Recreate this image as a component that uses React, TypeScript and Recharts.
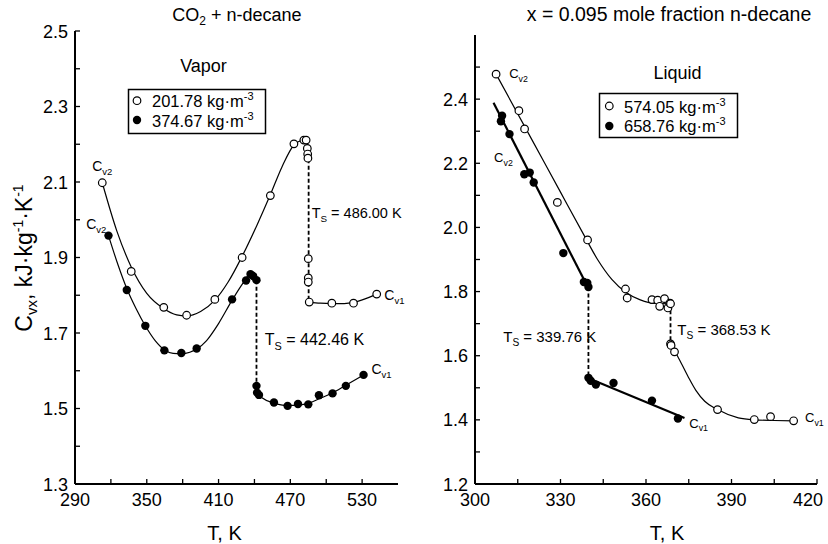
import React from "react";
import { ComposedChart, Line, Scatter, XAxis, YAxis, ReferenceDot } from "recharts";

const FONT = "'Liberation Sans', Arial, Helvetica, sans-serif";

// ---- left panel: vapor, CO2 + n-decane ----
const vaporOpenPts = [
  [312.8, 2.098], [337, 1.863], [364.2, 1.768], [383.3, 1.747], [406.9, 1.789],
  [429.7, 1.9], [453.3, 2.064], [473, 2.201], [481.3, 2.211], [483.2, 2.211],
  [484.2, 2.189], [484.5, 2.174], [484.7, 2.163], [485, 1.897], [485, 1.846],
  [485, 1.835], [485.8, 1.782], [504.7, 1.779], [522.8, 1.779], [542.2, 1.803],
];
const vaporFilledPts = [
  [318, 1.958], [333.3, 1.814], [348.8, 1.719], [364.7, 1.654], [378.9, 1.647],
  [391.7, 1.659], [421.3, 1.789], [433, 1.839], [436.7, 1.856], [438.9, 1.851],
  [441.7, 1.84], [441.7, 1.56], [442.2, 1.542], [443.8, 1.536], [456.3, 1.516],
  [467.7, 1.507], [476.4, 1.512], [485, 1.511], [493.9, 1.535], [505.3, 1.54],
  [516.4, 1.56], [531.2, 1.589],
];
const vaporOpenCurveA = [
  [312.8, 2.098], [325, 1.97], [337, 1.875], [350, 1.805], [364, 1.765], [375, 1.748],
  [383, 1.745], [395, 1.757], [407, 1.787], [418, 1.835], [430, 1.905], [442, 1.985],
  [453, 2.064], [463, 2.14], [473, 2.198], [479, 2.21], [483, 2.212], [484.7, 2.163],
];
const vaporOpenDash = [[485.3, 2.16], [485.3, 1.782]];
const vaporOpenCurveB = [
  [485.8, 1.782], [495, 1.779], [505, 1.778], [515, 1.778], [523, 1.781], [533, 1.791], [542.2, 1.803],
];
const vaporFilledCurveA = [
  [318, 1.958], [326, 1.88], [333, 1.82], [341, 1.765], [349, 1.718], [357, 1.68],
  [365, 1.655], [372, 1.646], [379, 1.645], [386, 1.649], [392, 1.658], [400, 1.68],
  [410, 1.725], [421, 1.785], [430, 1.83], [436, 1.855], [441.7, 1.842],
];
const vaporFilledDash = [[441.7, 1.84], [441.7, 1.56]];
const vaporFilledCurveB = [
  [441.7, 1.56], [443, 1.54], [447, 1.527], [456, 1.515], [467, 1.508], [477, 1.509],
  [486, 1.515], [495, 1.527], [505, 1.541], [516, 1.561], [531.2, 1.589],
];
const vaporXTicks = [290, 320, 350, 380, 410, 440, 470, 500, 530];
const vaporXLabels = [290, 350, 410, 470, 530];
const vaporYTicks = [1.3, 1.4, 1.5, 1.6, 1.7, 1.8, 1.9, 2.0, 2.1, 2.2, 2.3, 2.4, 2.5];
const vaporYLabels = [1.3, 1.5, 1.7, 1.9, 2.1, 2.3, 2.5];
const vaporNotes = [
  { T: 304.4, v: 2.129, main: "C", sub: "v2", rest: "", size: 14 },
  { T: 299.4, v: 1.975, main: "C", sub: "v2", rest: "", size: 14 },
  { T: 548.6, v: 1.787, main: "C", sub: "v1", rest: "", size: 14 },
  { T: 537.8, v: 1.591, main: "C", sub: "v1", rest: "", size: 14 },
  { T: 487.8, v: 2.005, main: "T", sub: "S", rest: " = 486.00 K", size: 14.5 },
  { T: 448.6, v: 1.668, main: "T", sub: "S", rest: " = 442.46 K", size: 16 },
];

// ---- right panel: liquid, x = 0.095 ----
const liquidOpenPts = [
  [307.4, 2.478], [315.4, 2.364], [317.4, 2.307], [328.9, 2.078], [339.5, 1.961],
  [352.8, 1.808], [353.4, 1.78], [362.1, 1.775], [364.1, 1.773], [364.8, 1.754],
  [366.5, 1.778], [367.7, 1.749], [368.4, 1.764], [368.6, 1.762], [368.6, 1.637],
  [368.8, 1.632], [370, 1.612], [385.1, 1.432], [398, 1.401], [403.7, 1.41], [411.8, 1.397],
];
const liquidFilledPts = [
  [309.5, 2.348], [309.1, 2.331], [312.1, 2.291], [317.3, 2.166], [319.2, 2.171],
  [320.6, 2.14], [331, 1.92], [338.2, 1.83], [339.4, 1.827], [339.8, 1.814],
  [339.8, 1.531], [340.6, 1.522], [342.4, 1.51], [348.6, 1.515], [362.1, 1.46], [371.2, 1.404],
];
const liquidOpenCurveA = [
  [307.4, 2.478], [320, 2.273], [330, 2.11], [338, 1.98], [343, 1.9], [348, 1.838],
  [353, 1.797], [358, 1.774], [363, 1.763], [368.6, 1.762],
];
const liquidOpenDash = [[368.6, 1.762], [368.6, 1.637]];
const liquidOpenCurveB = [
  [368.6, 1.637], [371, 1.6], [374.7, 1.536], [377.5, 1.492], [380.6, 1.458], [385.1, 1.432],
  [392.4, 1.406], [398, 1.4], [405, 1.398], [411.8, 1.397],
];
const liquidFilledLineA = [[306.5, 2.389], [339.8, 1.81]];
const liquidFilledDash = [[339.8, 1.814], [339.8, 1.531]];
const liquidFilledLineB = [[339.4, 1.531], [373.5, 1.406]];
const liquidXTicks = [300, 315, 330, 345, 360, 375, 390, 405, 420];
const liquidXLabels = [300, 330, 360, 390, 420];
const liquidYTicks = [1.2, 1.3, 1.4, 1.5, 1.6, 1.7, 1.8, 1.9, 2.0, 2.1, 2.2, 2.3, 2.4, 2.5];
const liquidYLabels = [1.2, 1.4, 1.6, 1.8, 2.0, 2.2, 2.4];
const liquidNotes = [
  { T: 312, v: 2.466, main: "C", sub: "v2", rest: "", size: 13 },
  { T: 306.7, v: 2.205, main: "C", sub: "v2", rest: "", size: 13 },
  { T: 375.2, v: 1.376, main: "C", sub: "v1", rest: "", size: 13 },
  { T: 415.8, v: 1.392, main: "C", sub: "v1", rest: "", size: 13 },
  { T: 309.9, v: 1.644, main: "T", sub: "S", rest: " = 339.76 K", size: 15 },
  { T: 371, v: 1.666, main: "T", sub: "S", rest: " = 368.53 K", size: 15 },
];

const rows = (a: number[][]) => a.map(([T, v]) => ({ T, v }));
const same = (a: number, b: number) => Math.abs(a - b) < 1e-6;

// last label of the right panel sits against the page edge, so nudge it in
const XTick = ({ x, y, payload, labels, lastShift }: any) => {
  const isLast = same(payload.value, labels[labels.length - 1]);
  return (
    <g>
      <line x1={x} x2={x} y1={y} y2={y - 5} stroke="#000" strokeWidth={1.3} />
      {labels.some((l: number) => same(l, payload.value)) && (
        <text x={x + (isLast ? lastShift : 0)} y={y + 22} textAnchor="middle" fontSize={18} fontFamily={FONT} fill="#000">
          {payload.value}
        </text>
      )}
    </g>
  );
};

const YTick = ({ x, y, payload, labels }: any) => (
  <g>
    <line x1={x} x2={x + 5} y1={y} y2={y} stroke="#000" strokeWidth={1.3} />
    {labels.some((l: number) => same(l, payload.value)) && (
      <text x={x - 7} y={y + 6.5} textAnchor="end" fontSize={18} fontFamily={FONT} fill="#000">
        {payload.value.toFixed(1)}
      </text>
    )}
  </g>
);

const openDot = (p: any) => <circle cx={p.cx} cy={p.cy} r={3.8} fill="#fff" stroke="#000" strokeWidth={1.2} />;
const filledDot = (p: any) => <circle cx={p.cx} cy={p.cy} r={4.2} fill="#000" />;

const noteContent = (n: any) => ({ viewBox }: any) => (
  <text x={viewBox.x} y={viewBox.y} fontSize={n.size} fontFamily={FONT} fill="#000">
    {n.main}
    <tspan fontSize={n.size * 0.68} dy={n.size * 0.3}>{n.sub}</tspan>
    {n.rest && <tspan dy={-n.size * 0.3}>{n.rest}</tspan>}
  </text>
);

const xLabel = (shift: number) => ({ viewBox }: any) => (
  <text x={viewBox.x + viewBox.width / 2 + shift} y={540} textAnchor="middle" fontSize={20} fontFamily={FONT} fill="#000">
    T, K
  </text>
);

const yLabel = ({ viewBox }: any) => {
  const cx = viewBox.x + 17;
  const cy = 258;
  return (
    <text x={cx} y={cy} transform={`rotate(-90, ${cx}, ${cy})`} textAnchor="middle" fontSize={23} fontFamily={FONT} fill="#000">
      C<tspan fontSize={15} dy={5}>vx</tspan>
      <tspan dy={-5}>, kJ·kg</tspan>
      <tspan fontSize={14} dy={-9}>-1</tspan>
      <tspan dy={9}>·K</tspan>
      <tspan fontSize={14} dy={-9}>-1</tspan>
    </text>
  );
};

const lineStyle = { stroke: "#000", dot: false, isAnimationActive: false, legendType: "none" as const };

function Panel(props: any) {
  const { margin, xDomain, yDomain, xTicks, xLabels, yTicks, yLabels, notes, xShift, lastShift, withYLabel, children } = props;
  return (
    <ComposedChart width={414} height={544} margin={margin}>
      <XAxis
        type="number"
        dataKey="T"
        domain={xDomain}
        allowDataOverflow
        ticks={xTicks}
        interval={0}
        tickSize={0}
        tickMargin={0}
        tickLine={false}
        axisLine={{ stroke: "#000", strokeWidth: 2 }}
        tick={<XTick labels={xLabels} lastShift={lastShift} />}
        height={40}
        label={{ content: xLabel(xShift) }}
      />
      <YAxis
        type="number"
        dataKey="v"
        domain={yDomain}
        allowDataOverflow
        ticks={yTicks}
        interval={0}
        tickSize={0}
        tickMargin={0}
        tickLine={false}
        axisLine={{ stroke: "#000", strokeWidth: 2 }}
        tick={<YTick labels={yLabels} />}
        width={60}
        label={withYLabel ? { content: yLabel } : undefined}
      />
      {children}
      {notes.map((n: any, i: number) => (
        <ReferenceDot
          key={i}
          x={n.T}
          y={n.v}
          r={0}
          fill="none"
          stroke="none"
          ifOverflow="visible"
          label={{ content: noteContent(n) }}
        />
      ))}
    </ComposedChart>
  );
}

export default function App() {
  return (
    <div style={{ position: "absolute", left: 0, top: 0, width: 828, height: 544, background: "#fff", fontFamily: FONT }}>
      <div style={{ position: "absolute", left: 0, top: 0 }}>
        <Panel
          margin={{ top: 31, right: 16, left: 15, bottom: 20 }}
          xDomain={[290, 560]}
          yDomain={[1.3, 2.5]}
          xTicks={vaporXTicks}
          xLabels={vaporXLabels}
          yTicks={vaporYTicks}
          yLabels={vaporYLabels}
          notes={vaporNotes}
          xShift={-12}
          lastShift={0}
          withYLabel
        >
          <Line data={rows(vaporOpenCurveA)} dataKey="v" type="monotone" strokeWidth={1.2} {...lineStyle} />
          <Line data={rows(vaporOpenDash)} dataKey="v" type="linear" strokeWidth={1.8} strokeDasharray="4 2.5" {...lineStyle} />
          <Line data={rows(vaporOpenCurveB)} dataKey="v" type="monotone" strokeWidth={1.2} {...lineStyle} />
          <Line data={rows(vaporFilledCurveA)} dataKey="v" type="monotone" strokeWidth={1.2} {...lineStyle} />
          <Line data={rows(vaporFilledDash)} dataKey="v" type="linear" strokeWidth={1.8} strokeDasharray="4 2.5" {...lineStyle} />
          <Line data={rows(vaporFilledCurveB)} dataKey="v" type="monotone" strokeWidth={1.2} {...lineStyle} />
          <Scatter data={rows(vaporOpenPts)} dataKey="v" shape={openDot} isAnimationActive={false} />
          <Scatter data={rows(vaporFilledPts)} dataKey="v" shape={filledDot} isAnimationActive={false} />
        </Panel>
      </div>
      <div style={{ position: "absolute", left: 414, top: 0 }}>
        <Panel
          margin={{ top: 35, right: 11, left: 1, bottom: 20 }}
          xDomain={[300, 420]}
          yDomain={[1.2, 2.6]}
          xTicks={liquidXTicks}
          xLabels={liquidXLabels}
          yTicks={liquidYTicks}
          yLabels={liquidYLabels}
          notes={liquidNotes}
          xShift={21}
          lastShift={-9}
          withYLabel={false}
        >
          <Line data={rows(liquidOpenCurveA)} dataKey="v" type="monotone" strokeWidth={1.2} {...lineStyle} />
          <Line data={rows(liquidOpenDash)} dataKey="v" type="linear" strokeWidth={1.8} strokeDasharray="4 2.5" {...lineStyle} />
          <Line data={rows(liquidOpenCurveB)} dataKey="v" type="monotone" strokeWidth={1.2} {...lineStyle} />
          <Line data={rows(liquidFilledLineA)} dataKey="v" type="linear" strokeWidth={2.2} {...lineStyle} />
          <Line data={rows(liquidFilledDash)} dataKey="v" type="linear" strokeWidth={1.8} strokeDasharray="4 2.5" {...lineStyle} />
          <Line data={rows(liquidFilledLineB)} dataKey="v" type="linear" strokeWidth={2.2} {...lineStyle} />
          <Scatter data={rows(liquidOpenPts)} dataKey="v" shape={openDot} isAnimationActive={false} />
          <Scatter data={rows(liquidFilledPts)} dataKey="v" shape={filledDot} isAnimationActive={false} />
        </Panel>
      </div>
      <svg width={828} height={544} style={{ position: "absolute", left: 0, top: 0, pointerEvents: "none" }} fontFamily={FONT}>
        <text x={237} y={21} textAnchor="middle" fontSize={18}>
          CO<tspan fontSize={12} dy={4}>2</tspan>
          <tspan dy={-4}> + n-decane</tspan>
        </text>
        <text x={669} y={21} textAnchor="middle" fontSize={19.5}>x = 0.095 mole fraction n-decane</text>
        <text x={203.5} y={72} textAnchor="middle" fontSize={18}>Vapor</text>
        <text x={677.5} y={79} textAnchor="middle" fontSize={18}>Liquid</text>

        <rect x={128.5} y={89.5} width={137} height={44} fill="#fff" stroke="#000" strokeWidth={1.5} />
        <circle cx={137} cy={100.7} r={3.8} fill="#fff" stroke="#000" strokeWidth={1.2} />
        <text x={152} y={107} fontSize={16.5}>
          201.78 kg·m<tspan fontSize={11} dy={-7}>-3</tspan>
        </text>
        <circle cx={137} cy={120} r={4.2} fill="#000" />
        <text x={152} y={127} fontSize={16.5}>
          374.67 kg·m<tspan fontSize={11} dy={-7}>-3</tspan>
        </text>

        <rect x={599.5} y={93.5} width={138} height={44} fill="#fff" stroke="#000" strokeWidth={1.5} />
        <circle cx={609.3} cy={106} r={3.8} fill="#fff" stroke="#000" strokeWidth={1.2} />
        <text x={624} y={112.5} fontSize={16.5}>
          574.05 kg·m<tspan fontSize={11} dy={-7}>-3</tspan>
        </text>
        <circle cx={609.3} cy={126} r={4.2} fill="#000" />
        <text x={624} y={131.5} fontSize={16.5}>
          658.76 kg·m<tspan fontSize={11} dy={-7}>-3</tspan>
        </text>
      </svg>
    </div>
  );
}
